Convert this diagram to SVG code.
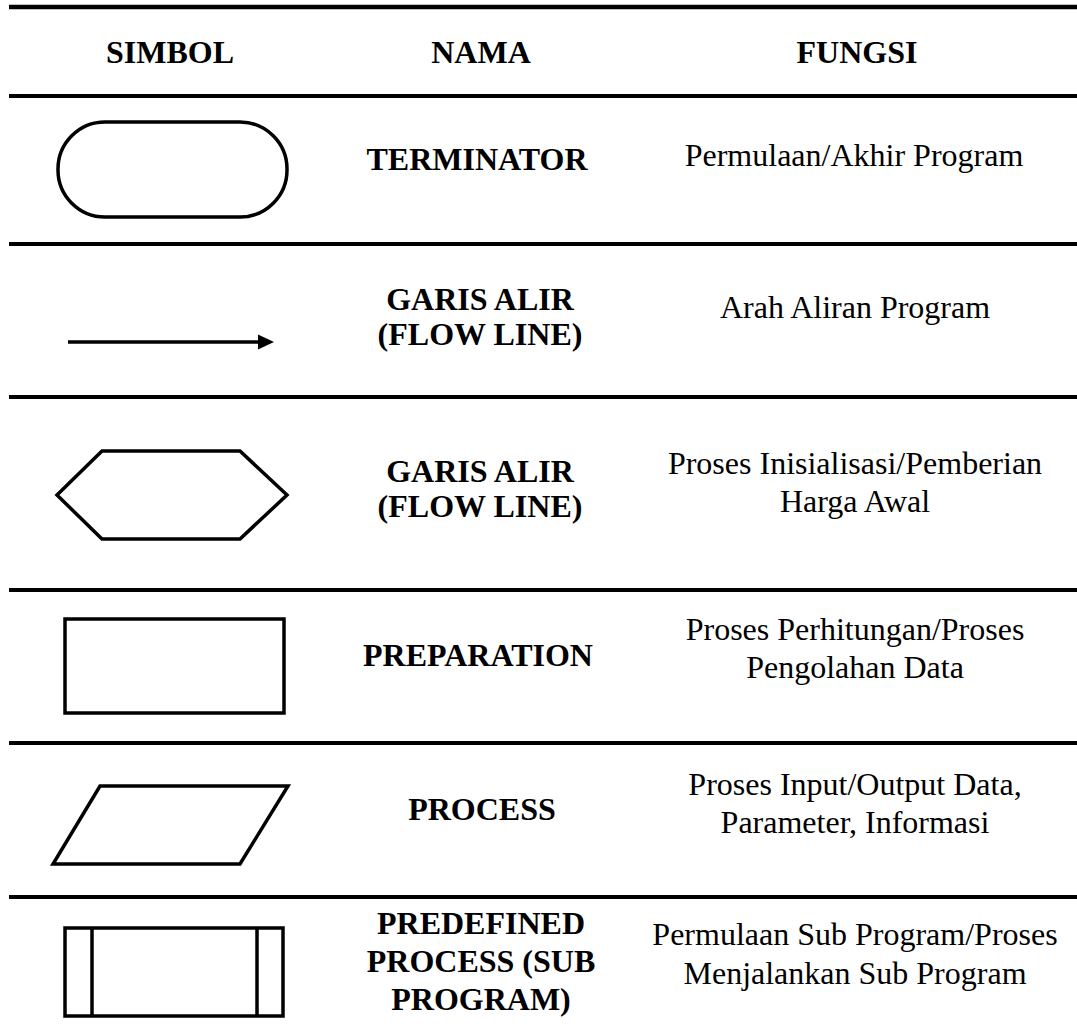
<svg xmlns="http://www.w3.org/2000/svg" width="1077" height="1030" viewBox="0 0 1077 1030">
<style>
.t{font-family:"Liberation Serif","Times New Roman",serif;font-size:32px;fill:#000;text-anchor:middle}
.b{font-weight:bold}
.rule{stroke:#000;stroke-width:4}
.sh{fill:none;stroke:#000;stroke-width:3.5;stroke-linejoin:miter}
</style>
<rect width="1077" height="1030" fill="#fff"/>
<g id="rules">
<line class="rule" x1="9" y1="7" x2="1077" y2="7" style="stroke-width:4.5"/>
<line class="rule" x1="9" y1="96" x2="1077" y2="96"/>
<line class="rule" x1="9" y1="244" x2="1077" y2="244"/>
<line class="rule" x1="9" y1="397" x2="1077" y2="397"/>
<line class="rule" x1="9" y1="590" x2="1077" y2="590"/>
<line class="rule" x1="9" y1="743" x2="1077" y2="743"/>
<line class="rule" x1="9" y1="897" x2="1077" y2="897"/>
</g>
<g id="header">
<text class="t b" x="170" y="63">SIMBOL</text>
<text class="t b" x="481" y="63">NAMA</text>
<text class="t b" x="857" y="63">FUNGSI</text>
</g>
<g id="row-terminator">
<rect class="sh" x="58" y="122" width="229" height="95" rx="47" ry="47"/>
<text class="t b" x="477" y="170">TERMINATOR</text>
<text class="t" x="854" y="166">Permulaan/Akhir Program</text>
</g>
<g id="row-flowline">
<text class="t b" x="480" y="310">GARIS ALIR</text>
<text class="t b" x="480" y="345">(FLOW LINE)</text>
<text class="t" x="855" y="318">Arah Aliran Program</text>
</g>
<g id="connectors">
<line x1="68" y1="342" x2="260" y2="342" stroke="#000" stroke-width="3.5"/>
<path d="M258,334.5 L274,342 L258,349.5 Z" fill="#000"/>
</g>
<g id="row-hexagon">
<polygon class="sh" points="57,495 102,451 240,451 287,495 240,539 102,539"/>
<text class="t b" x="480" y="482">GARIS ALIR</text>
<text class="t b" x="480" y="517">(FLOW LINE)</text>
<text class="t" x="855" y="474">Proses Inisialisasi/Pemberian</text>
<text class="t" x="855" y="512">Harga Awal</text>
</g>
<g id="row-preparation">
<rect class="sh" x="65" y="619" width="219" height="94"/>
<text class="t b" x="478" y="666">PREPARATION</text>
<text class="t" x="855" y="640">Proses Perhitungan/Proses</text>
<text class="t" x="855" y="678">Pengolahan Data</text>
</g>
<g id="row-process">
<polygon class="sh" points="100,786 288,786 240,864 53,864"/>
<text class="t b" x="482" y="820">PROCESS</text>
<text class="t" x="855" y="795">Proses Input/Output Data,</text>
<text class="t" x="855" y="833">Parameter, Informasi</text>
</g>
<g id="row-predefined">
<rect class="sh" x="65" y="928" width="218" height="88"/>
<line class="sh" x1="92" y1="928" x2="92" y2="1016"/>
<line class="sh" x1="257" y1="928" x2="257" y2="1016"/>
<text class="t b" x="481" y="934">PREDEFINED</text>
<text class="t b" x="481" y="972">PROCESS (SUB</text>
<text class="t b" x="481" y="1010">PROGRAM)</text>
<text class="t" x="855" y="945">Permulaan Sub Program/Proses</text>
<text class="t" x="855" y="984">Menjalankan Sub Program</text>
</g>
</svg>
